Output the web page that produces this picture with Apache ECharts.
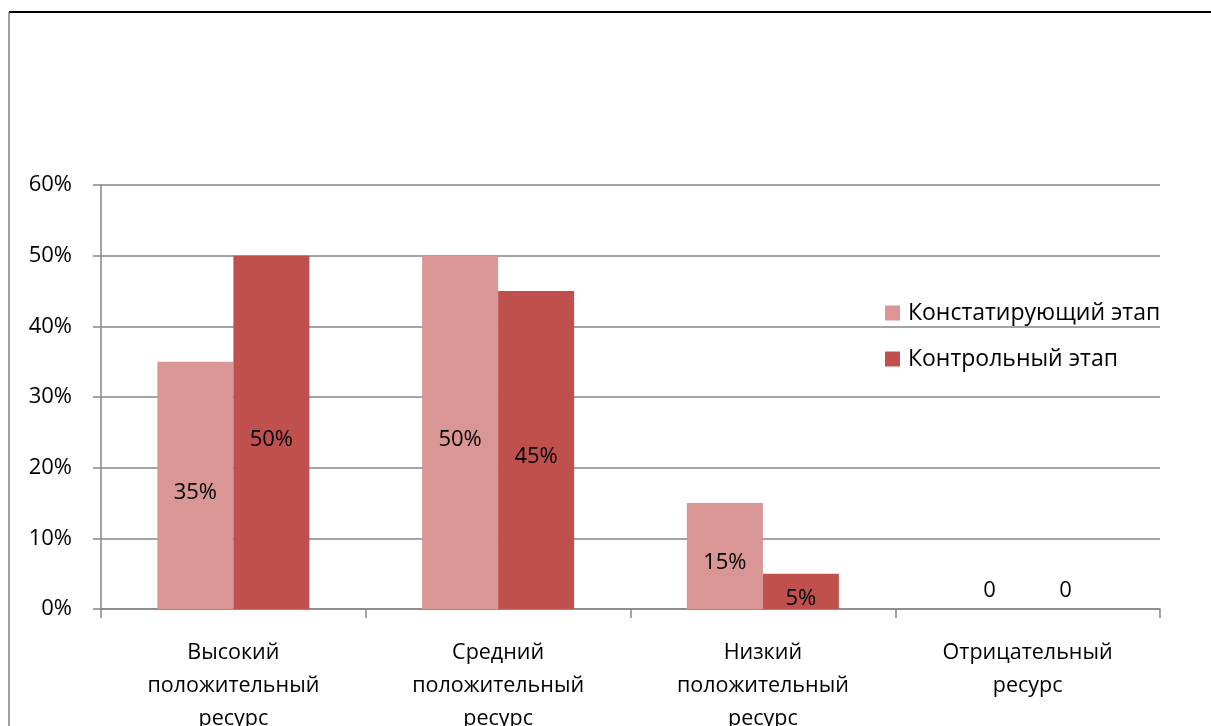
<!DOCTYPE html>
<html>
<head>
<meta charset="utf-8">
<script src="https://cdn.jsdelivr.net/npm/echarts@6/dist/echarts.min.js"></script>
<style>
  html, body { margin: 0; padding: 0; background: #fff; }
  #chart { width: 1211px; height: 726px; }
</style>
</head>
<body>
<div id="chart"></div>
<script>
const categories = [
  'Высокий\nположительный\nресурс',
  'Средний\nположительный\nресурс',
  'Низкий\nположительный\nресурс',
  'Отрицательный\nресурс'
]
const seriesNames = ['Констатирующий этап', 'Контрольный этап']
const stageOne = [35, 50, 15, 0]
const stageTwo = [50, 45, 5, 0]
const yTicks = [0, 10, 20, 30, 40, 50, 60]

const colors = ['#D99694', '#C0504D']
const font = '"Open Sans", Lato, sans-serif'

// zero values sit a bit above the axis, others in the middle of the bar
const toData = (arr) => arr.map(v => v === 0
  ? { value: v, label: { offset: [0, -18] } }
  : v)

const barLabel = {
  show: true, position: 'inside', offset: [0, 7],
  color: '#000', fontSize: 22, fontFamily: font,
  formatter: p => p.value === 0 ? '0' : p.value + '%'
}

let myChart = echarts.init(document.getElementById('chart'))
myChart.setOption({
  animation: false,
  color: colors,
  textStyle: { fontFamily: font },
  graphic: [
    { type: 'line', shape: { x1: 9, y1: 12, x2: 1211, y2: 12 }, style: { stroke: '#000', lineWidth: 2 } },
    { type: 'line', shape: { x1: 9, y1: 12, x2: 9, y2: 726 }, style: { stroke: '#7f7f7f', lineWidth: 1.5 } }
  ],
  grid: { left: 101, right: 51, top: 185, bottom: 117, containLabel: false, outerBoundsMode: 'none' },
  legend: {
    data: seriesNames,
    orient: 'vertical',
    left: 885,
    top: 299,
    padding: 0,
    icon: 'rect',
    itemWidth: 15,
    itemHeight: 15,
    itemGap: 18,
    textStyle: { fontFamily: font, fontSize: 23, lineHeight: 24, color: '#000', padding: [4, 0, 0, 3] }
  },
  xAxis: {
    type: 'category',
    data: categories,
    axisLine: { lineStyle: { color: '#868686', width: 1.5 } },
    axisTick: { show: true, length: 9, lineStyle: { color: '#868686', width: 1.5 } },
    axisLabel: { color: '#000', fontSize: 21.5, lineHeight: 33, margin: 27, fontFamily: font, interval: 0 }
  },
  yAxis: {
    type: 'value',
    min: yTicks[0],
    max: yTicks[yTicks.length - 1],
    interval: 10,
    axisLine: { show: true, lineStyle: { color: '#868686', width: 1.5 } },
    axisTick: { show: true, length: 8, lineStyle: { color: '#868686', width: 1.5 } },
    splitLine: { lineStyle: { color: '#868686', width: 1.5 } },
    axisLabel: { color: '#000', fontSize: 22, margin: 29, fontFamily: font, formatter: '{value}%' }
  },
  series: [
    {
      name: seriesNames[0],
      type: 'bar',
      data: toData(stageOne),
      barWidth: 76,
      barGap: '0%',
      label: barLabel
    },
    {
      name: seriesNames[1],
      type: 'bar',
      data: toData(stageTwo),
      barWidth: 76,
      barGap: '0%',
      label: barLabel
    }
  ]
})
</script>
</body>
</html>
